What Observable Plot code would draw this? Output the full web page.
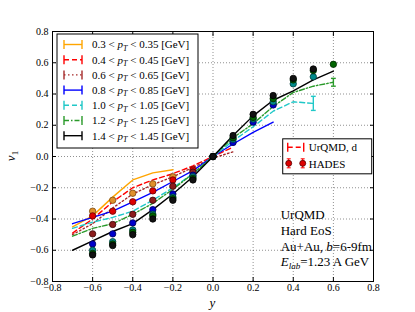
<!DOCTYPE html>
<html><head><meta charset="utf-8">
<script src="https://cdn.jsdelivr.net/npm/d3@7"></script>
<script src="https://cdn.jsdelivr.net/npm/@observablehq/plot@0.6"></script>
<style>body{margin:0;background:#fff;} svg{display:block;}</style>
</head><body><div id="chart"></div>
<script>
// ---- Data ----
const binLabels = ["0.3|0.35","0.4|0.45","0.6|0.65","0.8|0.85","1.0|1.05","1.2|1.25","1.4|1.45"];
const modelX = [-0.7,-0.6,-0.5,-0.4,-0.3,-0.2,-0.1,0.0,0.1,0.2,0.3,0.4,0.5,0.6];
const modelOrange = [-0.45,-0.38,-0.26,-0.15,-0.105,-0.085];
const modelRed    = [-0.49,-0.40,-0.29,-0.20,-0.15,-0.11,-0.06,0.0,0.06];
const modelBrown  = [-0.50,-0.43,-0.33,-0.24,-0.18,-0.13,-0.07,-0.01,0.03];
const modelBlue   = [-0.43,-0.39,-0.35,-0.29,-0.23,-0.16,-0.09,0.0,0.08,0.155,0.22];
const modelCyan   = [-0.46,-0.42,-0.39,-0.35,-0.28,-0.20,-0.11,0.0,0.10,0.19,0.29,0.35,0.34];
const modelGreen  = [-0.51,-0.46,-0.43,-0.37,-0.30,-0.21,-0.11,0.0,0.12,0.21,0.32,0.41,0.45,0.475];
const modelBlack  = [-0.60,-0.54,-0.48,-0.43,-0.34,-0.24,-0.13,0.0,0.134,0.26,0.36,0.42,0.49,0.546];
const modelErrCyan = 0.045;   // error on last cyan point
const modelErrGreen = 0.025;  // error on last green point

const hadesX = [-0.6,-0.5,-0.4,-0.3,-0.2,-0.1,0.0,0.1,0.2,0.3,0.4,0.5,0.6];
const hadesOrange = [-0.35,-0.28,-0.235,-0.175,-0.13];
const hadesRed    = [-0.38,-0.35,-0.29,-0.22,-0.15,-0.085,0.0];
const hadesBrown  = [-0.495,-0.435,-0.37,-0.28,-0.19,-0.10,0.0];
const hadesBlue   = [-0.56,-0.495,-0.425,-0.34,-0.24,-0.12,0.0,0.09,0.22,0.33];
const hadesTeal   = [-0.60,-0.545,-0.47,-0.37,-0.26,-0.13,0.0,0.11,0.24,0.35,0.465,0.51];
const hadesGreen  = [-0.62,-0.56,-0.485,-0.38,-0.27,-0.14,0.0,0.12,0.25,0.37,0.49,0.55,0.59];
const hadesBlack  = [-0.63,-0.57,-0.50,-0.40,-0.28,-0.15,0.0,0.134,0.27,0.39,0.50,0.56];

const axisTicks = [-0.8,-0.6,-0.4,-0.2,0.0,0.2,0.4,0.6,0.8];
const annotation = ["UrQMD","Hard EoS","Au+Au, b=6-9fm","E_lab=1.23 A GeV"];

// ---- Styles ----
const lineStyles = [
  {stroke:"#ffa500", dash:null},
  {stroke:"#ff0000", dash:"5,3"},
  {stroke:"#a52a2a", dash:"1.5,2.5"},
  {stroke:"#0000ff", dash:null},
  {stroke:"#20c8c8", dash:"5,3"},
  {stroke:"#2a9a2a", dash:"5,2,1.5,2"},
  {stroke:"#000000", dash:null}
];
const pointStyles = [
  {fill:"#e0902a", stroke:"#7a4a10"},
  {fill:"#dd0000", stroke:"#6a0000"},
  {fill:"#8b1c1c", stroke:"#3a0808"},
  {fill:"#0000cc", stroke:"#000055"},
  {fill:"#008b8b", stroke:"#003a3a"},
  {fill:"#006400", stroke:"#002a00"},
  {fill:"#111111", stroke:"#000000"}
];

const modelSeries = [modelOrange, modelRed, modelBrown, modelBlue, modelCyan, modelGreen, modelBlack];
const hadesSeries = [hadesOrange, hadesRed, hadesBrown, hadesBlue, hadesTeal, hadesGreen, hadesBlack];

const modelRows = modelSeries.map((arr, i) => arr.map((v, j) => ({bin: i, x: modelX[j], y: v})));
const hadesRows = hadesSeries.flatMap((arr, i) => arr.map((v, j) => ({bin: i, x: hadesX[j], y: v})));
const errRows = [
  {bin: 4, x: modelX[modelCyan.length-1], y: modelCyan[modelCyan.length-1], e: modelErrCyan},
  {bin: 5, x: modelX[modelGreen.length-1], y: modelGreen[modelGreen.length-1], e: modelErrGreen}
];

const fmt = d3.format(".1f");
const gridStyle = {stroke:"#000", strokeOpacity:0.55, strokeDasharray:"1,2", strokeWidth:0.8};

const marks = [
  Plot.gridX(axisTicks.slice(1,-1), gridStyle),
  Plot.gridY(axisTicks.slice(1,-1), gridStyle),
  ...modelRows.map((rows, i) => Plot.line(rows, {x:"x", y:"y", stroke: lineStyles[i].stroke, strokeDasharray: lineStyles[i].dash, strokeWidth: 1.4})),
  Plot.ruleX(errRows, {x:"x", y1: d => d.y - d.e, y2: d => d.y + d.e, stroke: d => lineStyles[d.bin].stroke, strokeWidth: 1.4}),
  Plot.link(errRows, {x1: d => d.x - 0.012, x2: d => d.x + 0.012, y1: d => d.y - d.e, y2: d => d.y - d.e, stroke: d => lineStyles[d.bin].stroke, strokeWidth: 1.4}),
  Plot.link(errRows, {x1: d => d.x - 0.012, x2: d => d.x + 0.012, y1: d => d.y + d.e, y2: d => d.y + d.e, stroke: d => lineStyles[d.bin].stroke, strokeWidth: 1.4}),
  Plot.dot(hadesRows, {x:"x", y:"y", r:3.2, fill: d => pointStyles[d.bin].fill, stroke: d => pointStyles[d.bin].stroke, strokeWidth: 0.8}),
  Plot.frame({stroke:"#000", strokeWidth:1}),
  Plot.axisX(axisTicks, {anchor:"bottom", tickSize:-4, tickPadding:6, tickFormat: fmt, label:null, fontSize:10}),
  Plot.axisX(axisTicks, {anchor:"top", tickSize:-4, tickFormat: () => "", label:null}),
  Plot.axisY(axisTicks, {anchor:"left", tickSize:-4, tickPadding:8, tickFormat: fmt, label:null, fontSize:10}),
  Plot.axisY(axisTicks, {anchor:"right", tickSize:-4, tickFormat: () => "", label:null})
];

const plot = Plot.plot({
  width: 415, height: 312,
  marginLeft: 52, marginRight: 42, marginTop: 31, marginBottom: 31,
  x: {domain: [-0.8, 0.8]},
  y: {domain: [-0.8, 0.8]},
  style: {fontFamily: "'Liberation Serif', 'DejaVu Serif', serif", fontSize: "10px", background: "#fff", color: "#000"},
  marks
});
document.getElementById("chart").appendChild(plot);

// ---- Overlays: axis labels, legends, annotation ----
const svg = d3.select(plot);
const sx = plot.scale("x"), sy = plot.scale("y");
const X0 = sx.apply(-0.8), X1 = sx.apply(0.8), Y0 = sy.apply(0.8), Y1 = sy.apply(-0.8);
const g = svg.append("g").attr("font-family", "'Liberation Serif', serif").attr("fill", "#000")
  .attr("text-anchor", "start");

// x label
g.append("text").attr("x", (X0+X1)/2).attr("y", Y1 + 26).attr("text-anchor","middle")
  .attr("font-size", 13).attr("font-style","italic").text("y");
// y label v_1
const yl = g.append("text").attr("transform", `translate(${X0-37},${(Y0+Y1)/2}) rotate(-90)`)
  .attr("text-anchor","middle").attr("font-size", 13);
yl.append("tspan").attr("font-style","italic").text("v");
yl.append("tspan").attr("font-size", 9).attr("dy", 3).text("1");

function richLabel(sel, lo, hi) {
  sel.append("tspan").text(lo + " < ");
  sel.append("tspan").attr("font-style","italic").text("p");
  sel.append("tspan").attr("font-style","italic").attr("font-size", 8).attr("dy", 2.5).text("T");
  sel.append("tspan").attr("dy", -2.5).text(" < " + hi + " [GeV]");
}
function errSymbol(gg, x1, x2, y, st) {
  gg.append("line").attr("x1", x1).attr("x2", x2).attr("y1", y).attr("y2", y)
    .attr("stroke", st.stroke).attr("stroke-width", 1.4).attr("stroke-dasharray", st.dash);
  for (const xx of [x1, x2]) {
    gg.append("line").attr("x1", xx).attr("x2", xx).attr("y1", y-4.5).attr("y2", y+4.5)
      .attr("stroke", st.stroke).attr("stroke-width", 1.4);
  }
}

// Legend 1
const L1 = g.append("g");
L1.append("rect").attr("x", X0+5).attr("y", Y0+3).attr("width", 141).attr("height", 114)
  .attr("fill", "#fff").attr("stroke", "#000").attr("stroke-width", 1);
binLabels.forEach((b, i) => {
  const [lo, hi] = b.split("|");
  const yy = Y0 + 13.5 + i * 15.2;
  errSymbol(L1, X0+12, X0+30, yy, lineStyles[i]);
  const t = L1.append("text").attr("x", X0+40).attr("y", yy+3.8).attr("font-size", 11);
  richLabel(t, lo, hi);
});

// Legend 2
const L2 = g.append("g");
const lx = sx.apply(0.35), ly = sy.apply(0.11);
L2.append("rect").attr("x", lx).attr("y", ly).attr("width", 89).attr("height", 35)
  .attr("fill", "#fff").attr("stroke", "#000").attr("stroke-width", 1);
errSymbol(L2, lx+5, lx+21, ly+8.5, lineStyles[1]);
L2.append("text").attr("x", lx+26).attr("y", ly+12.3).attr("font-size", 11).text("UrQMD, d");
for (const xx of [lx+6, lx+20]) {
  L2.append("line").attr("x1", xx).attr("x2", xx).attr("y1", ly+20).attr("y2", ly+29)
    .attr("stroke", "#ff0000").attr("stroke-width", 1.2);
  L2.append("line").attr("x1", xx-2).attr("x2", xx+2).attr("y1", ly+20).attr("y2", ly+20).attr("stroke", "#ff0000");
  L2.append("line").attr("x1", xx-2).attr("x2", xx+2).attr("y1", ly+29).attr("y2", ly+29).attr("stroke", "#ff0000");
  L2.append("circle").attr("cx", xx).attr("cy", ly+24.5).attr("r", 3).attr("fill", "#dd0000").attr("stroke", "#550000").attr("stroke-width", 0.8);
}
L2.append("text").attr("x", lx+26).attr("y", ly+28.8).attr("font-size", 11).text("HADES");

// Annotation
const ax = sx.apply(0.34);
const a = g.append("g").attr("font-size", 13);
a.append("text").attr("x", ax).attr("y", sy.apply(-0.4)).text(annotation[0]);
a.append("text").attr("x", ax).attr("y", sy.apply(-0.4) + 16).text(annotation[1]);
const t3 = a.append("text").attr("x", ax).attr("y", sy.apply(-0.4) + 32);
t3.append("tspan").text("Au+Au, ");
t3.append("tspan").attr("font-style","italic").text("b");
t3.append("tspan").text("=6-9fm");
const t4 = a.append("text").attr("x", ax).attr("y", sy.apply(-0.4) + 47);
t4.append("tspan").attr("font-style","italic").text("E");
t4.append("tspan").attr("font-style","italic").attr("font-size", 9).attr("dy", 3).text("lab");
t4.append("tspan").attr("dy", -3).text("=1.23 A GeV");
</script>
</body></html>
